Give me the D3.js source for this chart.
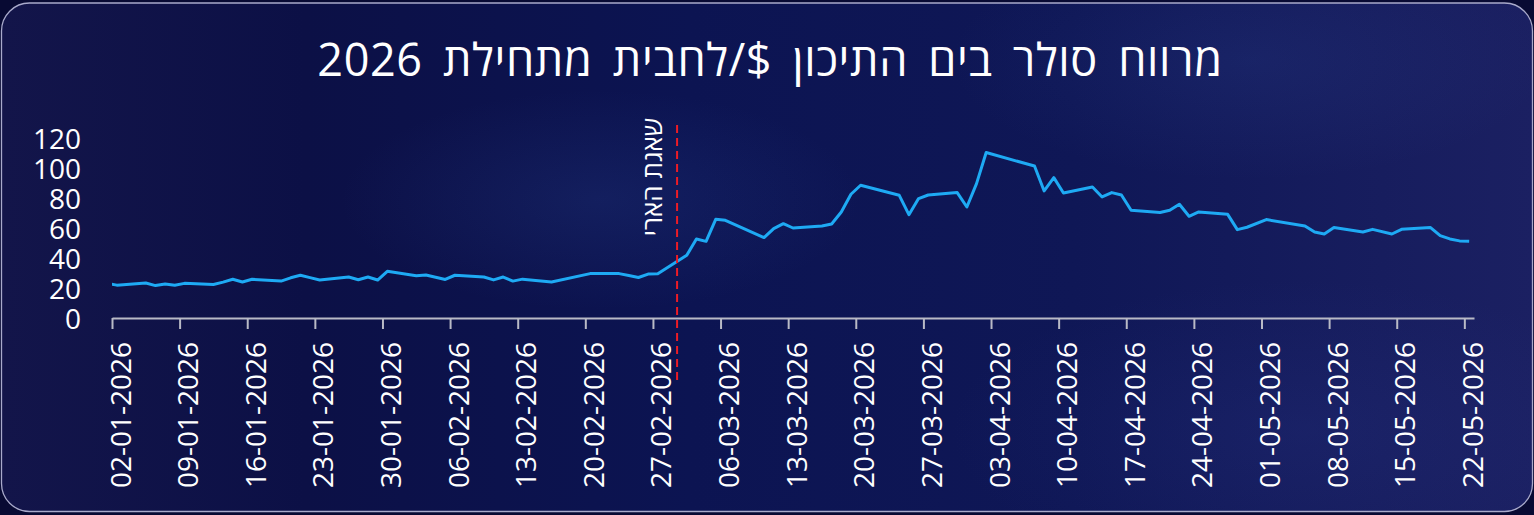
<!DOCTYPE html>
<html><head><meta charset="utf-8">
<script src="https://cdn.jsdelivr.net/npm/d3@7/dist/d3.min.js"></script>
<style>
html,body{margin:0;padding:0;background:#080a33;}
svg{display:block;}
text{font-family:"Open Sans",sans-serif;}
</style></head>
<body>
<svg id="chart" width="1534" height="515"></svg>
<script>
const titleText = "מרווח סולר בים התיכון $/לחבית מתחילת 2026";
const eventLabel = "שאגת הארי";
const eventDate = "2026-03-01";

const dates = [
"2026-01-01","2026-01-02","2026-01-05","2026-01-06","2026-01-07","2026-01-08","2026-01-09",
"2026-01-12","2026-01-13","2026-01-14","2026-01-15","2026-01-16",
"2026-01-19","2026-01-20","2026-01-21","2026-01-22","2026-01-23",
"2026-01-26","2026-01-27","2026-01-28","2026-01-29","2026-01-30",
"2026-02-02","2026-02-03","2026-02-04","2026-02-05","2026-02-06",
"2026-02-09","2026-02-10","2026-02-11","2026-02-12","2026-02-13",
"2026-02-16","2026-02-20",
"2026-02-23","2026-02-24","2026-02-25","2026-02-26","2026-02-27",
"2026-03-02","2026-03-03","2026-03-04","2026-03-05","2026-03-06",
"2026-03-10","2026-03-11","2026-03-12","2026-03-13",
"2026-03-16","2026-03-17","2026-03-18","2026-03-19","2026-03-20",
"2026-03-24","2026-03-25","2026-03-26","2026-03-27",
"2026-03-30","2026-03-31","2026-04-01","2026-04-02",
"2026-04-07","2026-04-08","2026-04-09","2026-04-10",
"2026-04-13","2026-04-14","2026-04-15","2026-04-16","2026-04-17",
"2026-04-20","2026-04-21","2026-04-22","2026-04-23","2026-04-24",
"2026-04-27","2026-04-28","2026-04-29","2026-05-01",
"2026-05-05","2026-05-06","2026-05-07","2026-05-08",
"2026-05-11","2026-05-12","2026-05-14","2026-05-15",
"2026-05-18","2026-05-19","2026-05-20","2026-05-21","2026-05-22"
];
const values = [
23.1,21.9,23.3,21.6,22.7,21.8,23.1,
22.3,23.9,25.8,24.0,25.8,
24.6,26.8,28.5,26.9,25.3,
27.3,25.5,27.3,25.3,31.1,
28.2,28.7,27.2,25.7,28.5,
27.3,25.4,27.3,24.6,25.9,
24.0,29.6,
29.6,28.3,27.0,29.3,29.5,
41.8,52.7,51.1,65.8,65.1,
53.6,59.6,62.9,60.0,
61.3,62.7,70.7,82.5,88.5,
81.8,68.9,79.6,82.0,
83.6,74.0,89.6,110.3,
101.3,84.7,93.6,83.3,
87.3,80.7,83.6,82.0,71.8,
70.3,71.8,75.8,67.8,70.7,
69.1,58.9,60.5,65.6,
61.3,57.3,56.0,60.3,
57.3,59.1,56.0,59.1,
60.3,54.9,52.7,51.4,51.1
];
const xTickLabels = ["02-01-2026","09-01-2026","16-01-2026","23-01-2026","30-01-2026","06-02-2026",
"13-02-2026","20-02-2026","27-02-2026","06-03-2026","13-03-2026","20-03-2026","27-03-2026",
"03-04-2026","10-04-2026","17-04-2026","24-04-2026","01-05-2026","08-05-2026","15-05-2026","22-05-2026"];
const yTicks = [0,20,40,60,80,100,120];
const xDomain = ["2026-01-02","2026-05-23"];

const FONT = '"Open Sans", sans-serif';
const parseISO = d3.timeParse("%Y-%m-%d");
const parseTick = d3.timeParse("%d-%m-%Y");
const mid = d => d3.timeHour.offset(parseISO(d), 12);

const svg = d3.select("#chart");
const W = 1534, H = 515;
const plot = {left:112, right:1474, top:138, bottom:318};

// background
const defs = svg.append("defs");
const lg = defs.append("linearGradient").attr("id","bg").attr("x1","0").attr("x2","1").attr("y1","0").attr("y2","0");
[["0%","#13154a"],["20%","#0c1046"],["45%","#0c1452"],["70%","#0f1756"],["100%","#1b2062"]]
  .forEach(s=>lg.append("stop").attr("offset",s[0]).attr("stop-color",s[1]));
const glow = (id,c,o)=>{const r=defs.append("radialGradient").attr("id",id);
  r.append("stop").attr("offset","0%").attr("stop-color",c).attr("stop-opacity",o);
  r.append("stop").attr("offset","100%").attr("stop-color",c).attr("stop-opacity",0);};
glow("g1","#3a5cb0",0.16); glow("g2","#3a5ab0",0.14); glow("g3","#2c3a90",0.2);
defs.append("clipPath").attr("id","clip").append("rect")
  .attr("x",plot.left).attr("y",0).attr("width",plot.right-plot.left).attr("height",H);
defs.append("clipPath").attr("id","panel").append("rect")
  .attr("x",1.5).attr("y",3).attr("width",1531).attr("height",508.5).attr("rx",28);

svg.append("rect").attr("width",W).attr("height",H).attr("fill","#080a33");
const bgG = svg.append("g").attr("clip-path","url(#panel)");
bgG.append("rect").attr("width",W).attr("height",H).attr("fill","url(#bg)");
bgG.append("ellipse").attr("cx",600).attr("cy",200).attr("rx",260).attr("ry",110).attr("fill","url(#g1)");
bgG.append("ellipse").attr("cx",1250).attr("cy",60).attr("rx",300).attr("ry",120).attr("fill","url(#g2)");
bgG.append("ellipse").attr("cx",1300).attr("cy",430).attr("rx",350).attr("ry",150).attr("fill","url(#g3)");
svg.append("rect").attr("x",1.5).attr("y",3).attr("width",1531).attr("height",508.5).attr("rx",28)
  .attr("fill","none").attr("stroke","#a9aacb").attr("stroke-width",1.3);

// scales
const x = d3.scaleTime().domain(xDomain.map(parseISO)).range([plot.left, plot.right]);
const y = d3.scaleLinear().domain([0,120]).range([plot.bottom, plot.top]);

// title
svg.append("text").attr("x",770).attr("y",76).attr("text-anchor","middle").attr("direction","rtl")
  .attr("fill","#ffffff").style("font-family",FONT).style("font-size","45px")
  .style("word-spacing","8px").style("letter-spacing","0.6px").text(titleText);

// y axis
const yAxis = svg.append("g").attr("transform",`translate(${81},0)`)
  .call(d3.axisLeft(y).tickValues(yTicks).tickSize(0).tickPadding(0));
yAxis.attr("font-family",FONT);
yAxis.select(".domain").remove();
yAxis.selectAll("text").attr("fill","#ffffff").attr("dy","0.36em").style("font-size","28px").style("font-family",FONT);

// x axis
const xAxis = svg.append("g").attr("transform",`translate(0,${plot.bottom})`)
  .call(d3.axisBottom(x).tickValues(xTickLabels.map(parseTick)).tickFormat(d3.timeFormat("%d-%m-%Y")).tickSize(11).tickSizeOuter(0));
xAxis.attr("font-family",FONT);
xAxis.select(".domain").attr("stroke","#b9bac6").attr("stroke-width",2);
xAxis.selectAll(".tick line").attr("stroke","#b9bac6").attr("stroke-width",2);
xAxis.selectAll(".tick text").attr("fill","#ffffff").style("font-size","28px").style("font-family",FONT)
  .attr("transform","rotate(-90)").attr("x",-24).attr("y",18).attr("dy",0).style("text-anchor","end");

// line
const series = dates.map((d,i)=>({date:mid(d), value:values[i]}));
svg.append("path").datum(series).attr("clip-path","url(#clip)")
  .attr("fill","none").attr("stroke","#1eaaf4").attr("stroke-width",3).attr("stroke-linejoin","round")
  .attr("d", d3.line().x(d=>x(d.date)).y(d=>y(d.value)));

// event marker
const ex = x(mid(eventDate));
svg.append("line").attr("x1",ex).attr("x2",ex).attr("y1",125).attr("y2",385)
  .attr("stroke","#ee1c25").attr("stroke-width",2).attr("stroke-dasharray","8,5");
svg.append("text").attr("transform",`translate(${ex-15},${177})rotate(-90)`)
  .attr("text-anchor","middle").attr("direction","rtl").attr("fill","#ffffff")
  .style("font-family",FONT).style("font-size","26px").text(eventLabel);
</script>
</body></html>
